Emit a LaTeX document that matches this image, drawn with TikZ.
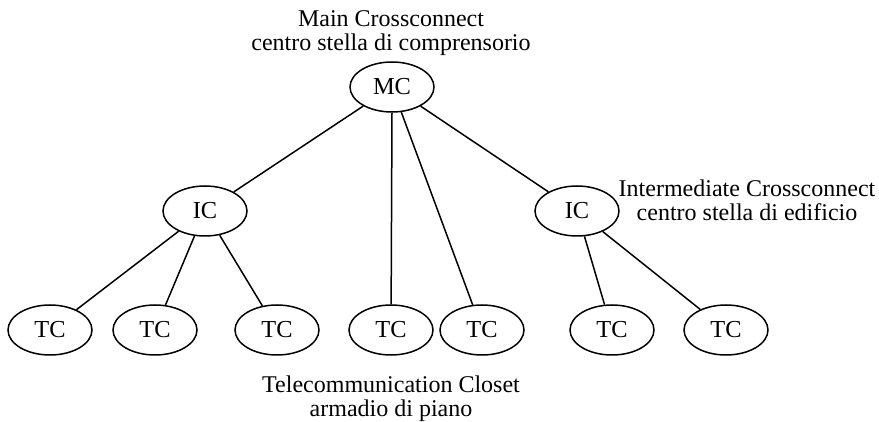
\documentclass[tikz,border=0pt]{standalone}
\usepackage{fontspec}
\setmainfont{Liberation Serif}
\usetikzlibrary{shapes.geometric}

\begin{document}
\begin{tikzpicture}[x=0.5pt, y=-0.5pt,
  box/.style={ellipse, draw, line width=0.75pt, minimum width=42pt, minimum height=25pt, inner sep=0pt, font=\fontsize{12.2}{13}\selectfont},
  caption/.style={align=center, inner sep=0pt, font=\fontsize{12}{12}\selectfont},
  link/.style={line width=0.75pt}]
  \useasboundingbox (0,0) rectangle (879,422);
  % draw crossconnect ellipses
  \node[box] (mc) at (392,87) {MC};
  \node[box] (icl) at (205,211) {IC};
  \node[box] (icr) at (577,211) {IC};
  % draw closet ellipses
  \node[box] (tc1) at (50,330) {TC};
  \node[box] (tc2) at (155,330) {TC};
  \node[box] (tc3) at (277,330) {TC};
  \node[box] (tc4) at (391,330) {TC};
  \node[box] (tc5) at (482,330) {TC};
  \node[box] (tc6) at (612,330) {TC};
  \node[box] (tc7) at (726,330) {TC};
  % draw star links
  \draw[link] (mc) -- (icl);
  \draw[link] (mc) -- (icr);
  \draw[link] (mc.south) -- (tc4);
  \draw[link] (mc) -- (tc5);
  \draw[link] (icl) -- (tc1);
  \draw[link] (icl) -- (tc2);
  \draw[link] (icl) -- (tc3);
  \draw[link] (icr) -- (tc6);
  \draw[link] (icr) -- (tc7);
  % draw captions
  \node[caption] (mclabel) at (391,33) {Main Crossconnect\\centro stella di comprensorio};
  \node[caption] (iclabel) at (747,200) {Intermediate Crossconnect\\centro stella di edificio};
  \node[caption] (tclabel) at (391,399) {Telecommunication Closet\\armadio di piano};
\end{tikzpicture}
\end{document}
